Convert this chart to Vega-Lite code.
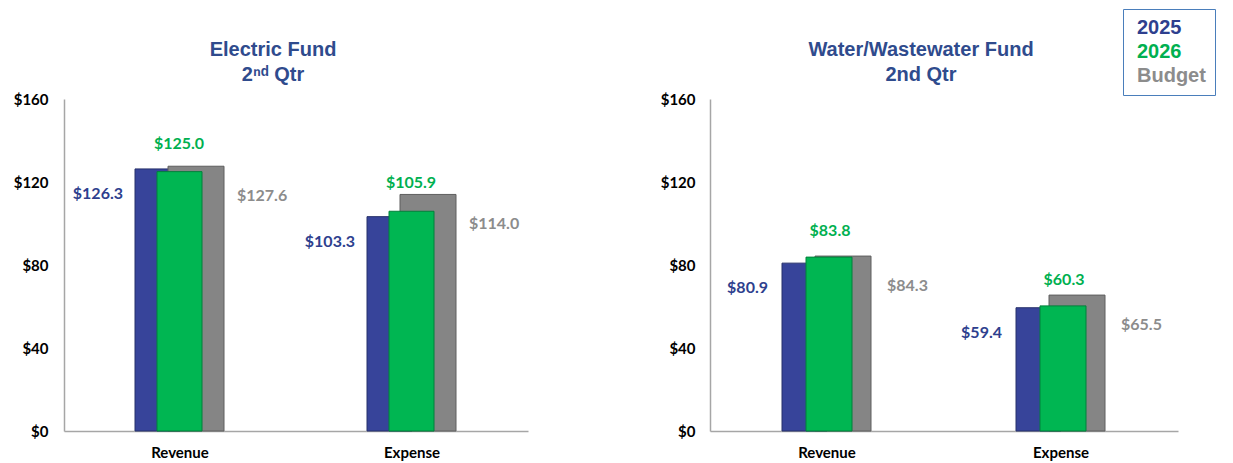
{
  "$schema": "https://vega.github.io/schema/vega-lite/v6.json",
  "background": "white",
  "padding": {"left": 13, "top": 8, "right": 3, "bottom": 5},
  "datasets": {
    "d": [
      {"fund": "Electric", "category": "Revenue", "series": "2025", "value": 126.3},
      {"fund": "Electric", "category": "Revenue", "series": "2026", "value": 125.0},
      {"fund": "Electric", "category": "Revenue", "series": "Budget", "value": 127.6},
      {"fund": "Electric", "category": "Expense", "series": "2025", "value": 103.3},
      {"fund": "Electric", "category": "Expense", "series": "2026", "value": 105.9},
      {"fund": "Electric", "category": "Expense", "series": "Budget", "value": 114.0},
      {"fund": "Water", "category": "Revenue", "series": "2025", "value": 80.9},
      {"fund": "Water", "category": "Revenue", "series": "2026", "value": 83.8},
      {"fund": "Water", "category": "Revenue", "series": "Budget", "value": 84.3},
      {"fund": "Water", "category": "Expense", "series": "2025", "value": 59.4},
      {"fund": "Water", "category": "Expense", "series": "2026", "value": 60.3},
      {"fund": "Water", "category": "Expense", "series": "Budget", "value": 65.5}
    ]
  },
  "config": {
    "view": {"stroke": null},
    "font": "Liberation Sans",
    "axis": {"grid": false, "ticks": false, "domainColor": "#A6A6A6", "domainWidth": 1.5, "labelFont": "Lato", "labelFontWeight": "bold", "labelColor": "#000000", "title": null}
  },
  "spacing": 132,
  "hconcat": [
    {
      "width": 464, "height": 332,
      "title": {"text": ["Electric Fund", "2ⁿᵈ Qtr"], "fontSize": 20, "fontWeight": "bold", "color": "#2F4B8D", "dx": -23, "offset": 7, "lineHeight": 25, "anchor": "middle"},
      "data": {"name": "d"},
      "transform": [{"filter": "datum.fund == 'Electric'"}],
      "encoding": {
        "x": {"field": "category", "type": "nominal", "sort": ["Revenue", "Expense"], "scale": {"paddingInner": 0, "paddingOuter": 0}, "axis": {"labelAngle": 0, "labelFontSize": 15, "labelPadding": 14}},
        "y": {"field": "value", "type": "quantitative", "scale": {"domain": [0, 160]}, "axis": {"values": [0, 40, 80, 120, 160], "labelExpr": "'$' + datum.value", "labelFontSize": 15, "labelPadding": 16}}
      },
      "layer": [
        {"transform": [{"filter": "datum.series == '2025'"}], "mark": {"type": "bar", "width": 45, "xOffset": -22.5, "stroke": "#27306B", "strokeWidth": 1}, "encoding": {"color": {"field": "series", "type": "nominal", "scale": {"domain": ["2025", "2026", "Budget"], "range": ["#37449A", "#00B652", "#858585"]}, "legend": {"orient": "none", "legendX": 1059, "legendY": -90, "title": null, "strokeColor": "#4A7EBB", "fillColor": "white", "padding": 9, "symbolSize": 0, "symbolOpacity": 0, "symbolStrokeWidth": 0, "labelOffset": -15, "labelFont": "Liberation Sans", "labelFontSize": 20, "labelFontWeight": "bold", "rowPadding": 4, "labelColor": {"expr": "datum.value == '2025' ? '#2E3F8E' : datum.value == '2026' ? '#00B050' : '#8C8C8C'"}}}}},
        {"transform": [{"filter": "datum.series == 'Budget'"}], "mark": {"type": "bar", "width": 56, "xOffset": 16, "stroke": "#5E5E5E", "strokeWidth": 1}, "encoding": {"color": {"field": "series", "type": "nominal"}}},
        {"transform": [{"filter": "datum.series == '2026'"}], "mark": {"type": "bar", "width": 45, "xOffset": -0.5, "stroke": "#00803A", "strokeWidth": 1}, "encoding": {"color": {"field": "series", "type": "nominal"}}},
        {"transform": [{"filter": "datum.series == '2025'"}], "mark": {"type": "text", "align": "right", "baseline": "middle", "xOffset": -57, "yOffset": 25, "font": "Lato", "fontWeight": "bold", "fontSize": 16, "color": "#2E3F8E"}, "encoding": {"text": {"field": "value", "type": "quantitative", "format": "$.1f"}}},
        {"transform": [{"filter": "datum.series == '2026'"}], "mark": {"type": "text", "align": "center", "baseline": "middle", "xOffset": -1, "yOffset": -28, "font": "Lato", "fontWeight": "bold", "fontSize": 16, "color": "#00B050"}, "encoding": {"text": {"field": "value", "type": "quantitative", "format": "$.1f"}}},
        {"transform": [{"filter": "datum.series == 'Budget'"}], "mark": {"type": "text", "align": "left", "baseline": "middle", "xOffset": 57, "yOffset": 30, "font": "Lato", "fontWeight": "bold", "fontSize": 16, "color": "#8C8C8C"}, "encoding": {"text": {"field": "value", "type": "quantitative", "format": "$.1f"}}}
      ]
    },
    {
      "width": 468, "height": 332,
      "title": {"text": ["Water/Wastewater Fund", "2nd Qtr"], "fontSize": 20, "fontWeight": "bold", "color": "#2F4B8D", "dx": -23, "offset": 7, "lineHeight": 25, "anchor": "middle"},
      "data": {"name": "d"},
      "transform": [{"filter": "datum.fund == 'Water'"}],
      "encoding": {
        "x": {"field": "category", "type": "nominal", "sort": ["Revenue", "Expense"], "scale": {"paddingInner": 0, "paddingOuter": 0}, "axis": {"labelAngle": 0, "labelFontSize": 15, "labelPadding": 14}},
        "y": {"field": "value", "type": "quantitative", "scale": {"domain": [0, 160]}, "axis": {"values": [0, 40, 80, 120, 160], "labelExpr": "'$' + datum.value", "labelFontSize": 15, "labelPadding": 15}}
      },
      "layer": [
        {"transform": [{"filter": "datum.series == '2025'"}], "mark": {"type": "bar", "width": 45, "xOffset": -22.5, "stroke": "#27306B", "strokeWidth": 1}, "encoding": {"color": {"field": "series", "type": "nominal"}}},
        {"transform": [{"filter": "datum.series == 'Budget'"}], "mark": {"type": "bar", "width": 56, "xOffset": 16, "stroke": "#5E5E5E", "strokeWidth": 1}, "encoding": {"color": {"field": "series", "type": "nominal"}}},
        {"transform": [{"filter": "datum.series == '2026'"}], "mark": {"type": "bar", "width": 46, "xOffset": 2, "stroke": "#00803A", "strokeWidth": 1}, "encoding": {"color": {"field": "series", "type": "nominal"}}},
        {"transform": [{"filter": "datum.series == '2025'"}], "mark": {"type": "text", "align": "right", "baseline": "middle", "xOffset": -59, "yOffset": 25, "font": "Lato", "fontWeight": "bold", "fontSize": 16, "color": "#2E3F8E"}, "encoding": {"text": {"field": "value", "type": "quantitative", "format": "$.1f"}}},
        {"transform": [{"filter": "datum.series == '2026'"}], "mark": {"type": "text", "align": "center", "baseline": "middle", "xOffset": 3, "yOffset": -26, "font": "Lato", "fontWeight": "bold", "fontSize": 16, "color": "#00B050"}, "encoding": {"text": {"field": "value", "type": "quantitative", "format": "$.1f"}}},
        {"transform": [{"filter": "datum.series == 'Budget'"}], "mark": {"type": "text", "align": "left", "baseline": "middle", "xOffset": 60, "yOffset": 30, "font": "Lato", "fontWeight": "bold", "fontSize": 16, "color": "#8C8C8C"}, "encoding": {"text": {"field": "value", "type": "quantitative", "format": "$.1f"}}}
      ]
    }
  ]
}
